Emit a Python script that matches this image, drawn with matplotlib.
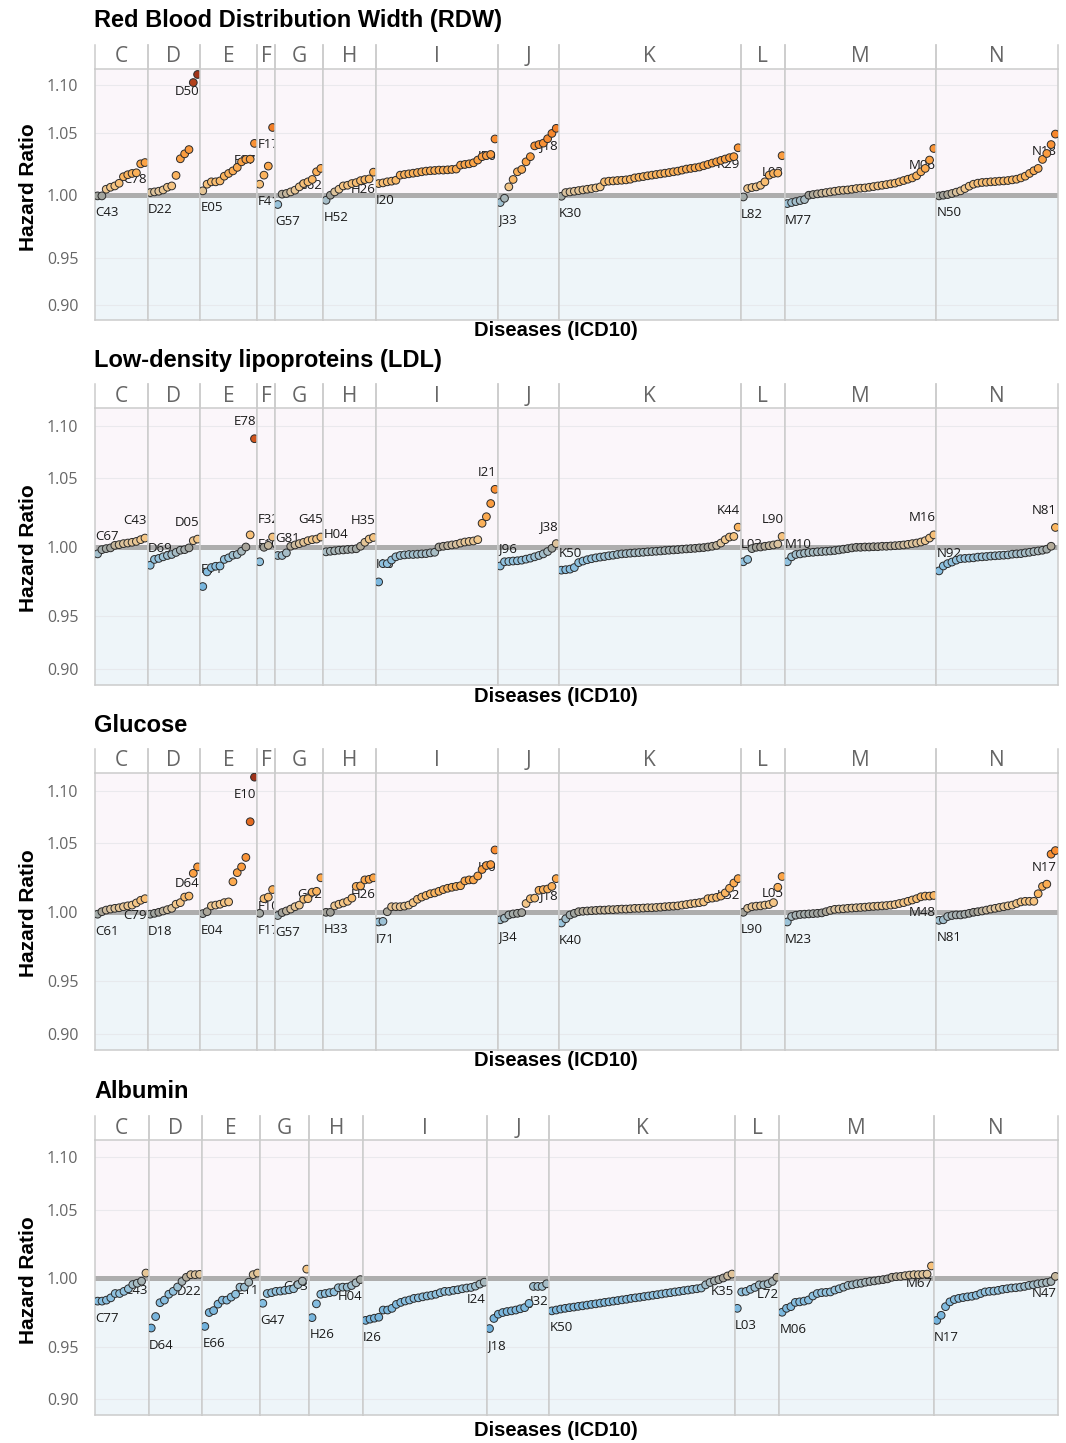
import numpy as np
import matplotlib.pyplot as plt
from matplotlib.colors import to_rgb

plt.rcParams['font.family'] = ['Open Sans', 'DejaVu Sans']

chapters = ['C', 'D', 'E', 'F', 'G', 'H', 'I', 'J', 'K', 'L', 'M', 'N']

# ---- Red Blood Distribution Width (RDW) ----
rdw_c = [0.9995, 0.9995, 1.0045, 1.006, 1.007, 1.009, 1.014, 1.0155, 1.0165, 1.017, 1.024, 1.025]
rdw_d = [1.002, 1.0025, 1.003, 1.004, 1.006, 1.007, 1.015, 1.028, 1.032, 1.0355, 1.103, 1.1135]
rdw_e = [1.0033, 1.0083, 1.0101, 1.0101, 1.0108, 1.0144, 1.0165, 1.0185, 1.0212, 1.0256, 1.0275, 1.0277, 1.0407]
rdw_f = [1.0083, 1.0152, 1.0222, 1.0548]
rdw_g = [0.993, 1.0008, 1.0013, 1.0025, 1.0038, 1.0063, 1.0088, 1.0101, 1.0119, 1.0178, 1.0204]
rdw_h = [0.9962, 1.0, 1.0025, 1.0045, 1.007, 1.0075, 1.0088, 1.0095, 1.011, 1.0118, 1.0123, 1.0175]
rdw_i = [1.0088, 1.0093, 1.0101, 1.0106, 1.0113, 1.0152, 1.0157, 1.0162, 1.0167, 1.0172,
         1.0178, 1.0183, 1.0186, 1.0188, 1.0191, 1.0191, 1.0193, 1.0196, 1.0199, 1.023,
         1.0235, 1.024, 1.0248, 1.027, 1.0297, 1.0305, 1.0315, 1.0445]
rdw_j = [0.9945, 0.9977, 1.0063, 1.0119, 1.0178, 1.0196, 1.0256, 1.0297, 1.0386, 1.0397, 1.0409, 1.0447, 1.0494, 1.054]
rdw_k = [0.9992, 1.002, 1.0025, 1.003, 1.0035, 1.004, 1.0045, 1.005, 1.0055, 1.0063,
         1.0101, 1.0106, 1.0108, 1.0111, 1.0113, 1.0116, 1.0121, 1.0131, 1.0136, 1.0141,
         1.0147, 1.0152, 1.0157, 1.0162, 1.0167, 1.0172, 1.0178, 1.0183, 1.0191, 1.0199,
         1.0204, 1.0209, 1.0215, 1.0225, 1.0235, 1.0246, 1.0256, 1.0267, 1.0278, 1.0289,
         1.0297, 1.037]
rdw_l = [0.9987, 1.005, 1.0058, 1.0063, 1.0075, 1.0101, 1.0152, 1.0165, 1.0168, 1.0305]
rdw_m = [0.9937, 0.9945, 0.9952, 0.996, 0.9967, 1.0, 1.0005, 1.001, 1.0015, 1.002,
         1.0025, 1.003, 1.0035, 1.0038, 1.004, 1.0045, 1.005, 1.0053, 1.0055, 1.006,
         1.0065, 1.007, 1.0075, 1.008, 1.0086, 1.0091, 1.0101, 1.0111, 1.0121, 1.0131,
         1.0147, 1.0178, 1.0204, 1.027, 1.0364]
rdw_n = [0.9995, 1.0, 1.0005, 1.0013, 1.0023, 1.0033, 1.005, 1.0068, 1.0083, 1.0091,
         1.0096, 1.0098, 1.0101, 1.0103, 1.0106, 1.0108, 1.0111, 1.0116, 1.0121, 1.0131,
         1.0144, 1.0165, 1.0186, 1.0204, 1.0275, 1.0323, 1.0397, 1.0488]
rdw_lo = ['C43', 'D22', 'E05', 'F41', 'G57', 'H52', 'I20', 'J33', 'K30', 'L82', 'M77', 'N50']
rdw_hi = ['C78', 'D50', 'E87', 'F17', 'G62', 'H26', 'I50', 'J18', 'K29', 'L03', 'M06', 'N18']

# ---- Low-density lipoproteins (LDL) ----
ldl_c = [0.9955, 0.9984, 0.9991, 0.9996, 1.0013, 1.0018, 1.0025, 1.0029, 1.0034, 1.004, 1.0052, 1.0063]
ldl_d = [0.9877, 0.9917, 0.9924, 0.9935, 0.9944, 0.9951, 0.9965, 0.998, 0.9984, 0.9996, 1.0045, 1.0056]
ldl_e = [0.9727, 0.9831, 0.9861, 0.987, 0.9872, 0.9917, 0.9928, 0.9946, 0.9951, 0.9973, 1.0002, 1.0085, 1.086]
ldl_f = [0.9901, 1.0, 1.0013, 1.007]
ldl_g = [0.9944, 0.9944, 0.9962, 1.0007, 1.0016, 1.0025, 1.0034, 1.0045, 1.0052, 1.0056, 1.007]
ldl_h = [0.9969, 0.9973, 0.9976, 0.998, 0.9982, 0.9985, 0.9987, 0.999, 1.0007, 1.0034, 1.0056, 1.0067]
ldl_i = [0.976, 0.9888, 0.9888, 0.9913, 0.9935, 0.9944, 0.9948, 0.9951, 0.9951, 0.9953,
         0.9955, 0.9957, 0.9962, 0.9966, 1.0002, 1.0007, 1.0011, 1.0016, 1.002, 1.0029,
         1.0036, 1.004, 1.0043, 1.0052, 1.0165, 1.0211, 1.0306, 1.0413]
ldl_j = [0.9872, 0.9901, 0.9903, 0.9906, 0.9908, 0.9912, 0.9919, 0.9926, 0.9935, 0.9944, 0.9955, 0.9971, 0.9993, 1.0025]
ldl_k = [0.9843, 0.9846, 0.985, 0.9861, 0.9895, 0.9906, 0.9915, 0.9922, 0.9928, 0.9933,
         0.9937, 0.9942, 0.9946, 0.9951, 0.9955, 0.9957, 0.996, 0.9962, 0.9964, 0.9966,
         0.9969, 0.9971, 0.9973, 0.9975, 0.9978, 0.998, 0.9982, 0.9984, 0.9987, 0.9989,
         0.9991, 0.9993, 0.9996, 0.9998, 1.0002, 1.0007, 1.0013, 1.0029, 1.0052, 1.007,
         1.0074, 1.0138]
ldl_l = [0.9901, 0.9917, 0.9991, 1.0, 1.0002, 1.0007, 1.0011, 1.0016, 1.0022, 1.0074]
ldl_m = [0.9901, 0.9935, 0.9951, 0.9955, 0.996, 0.9964, 0.9966, 0.9969, 0.9971, 0.9973,
         0.9975, 0.9978, 0.9982, 0.9987, 0.9991, 0.9996, 1.0, 1.0, 1.0002, 1.0002,
         1.0004, 1.0004, 1.0007, 1.0007, 1.0009, 1.0011, 1.0013, 1.0016, 1.002, 1.0025,
         1.0029, 1.0036, 1.0045, 1.0063, 1.0085]
ldl_n = [0.9838, 0.9872, 0.9888, 0.9899, 0.9912, 0.9922, 0.9924, 0.9926, 0.9928, 0.9933,
         0.9935, 0.9937, 0.994, 0.9942, 0.9944, 0.9946, 0.9948, 0.9953, 0.9955, 0.9957,
         0.9962, 0.9966, 0.9971, 0.9975, 0.998, 0.9987, 1.0007, 1.0136]
ldl_lo = ['C67', 'D69', 'E11', 'F10', 'G81', 'H04', 'I10', 'J96', 'K50', 'L03', 'M10', 'N92']
ldl_hi = ['C43', 'D05', 'E78', 'F32', 'G45', 'H35', 'I21', 'J38', 'K44', 'L90', 'M16', 'N81']

# ---- Glucose ----
glu_c = [0.9987, 1.0004, 1.0015, 1.0022, 1.0027, 1.0031, 1.0038, 1.0044, 1.0049, 1.0064, 1.0082, 1.0093]
glu_d = [0.9987, 0.9993, 1.0, 1.0009, 1.0018, 1.0027, 1.0055, 1.0066, 1.0104, 1.0111, 1.0271, 1.0318]
glu_e = [0.9991, 1.0004, 1.0044, 1.0049, 1.0055, 1.0066, 1.0071, 1.0211, 1.0276, 1.0318, 1.0389, 1.0686, 1.1158]
glu_f = [0.9993, 1.0093, 1.0104, 1.0156]
glu_g = [0.9978, 0.9998, 1.0009, 1.0022, 1.0038, 1.0049, 1.0089, 1.0093, 1.0138, 1.0144, 1.0239]
glu_h = [1.0, 1.0, 1.0044, 1.0055, 1.0064, 1.0075, 1.0097, 1.0178, 1.0182, 1.0224, 1.0228, 1.0239]
glu_i = [0.9934, 0.9938, 1.0004, 1.0038, 1.0038, 1.0038, 1.0042, 1.0049, 1.0066, 1.0089,
         1.0104, 1.0115, 1.0127, 1.0133, 1.0144, 1.0156, 1.0165, 1.0172, 1.0178, 1.0183,
         1.0217, 1.0224, 1.0224, 1.0252, 1.0299, 1.0328, 1.0335, 1.0447]
glu_j = [0.9949, 0.996, 0.9982, 0.9989, 0.9993, 0.9998, 1.006, 1.0093, 1.0097, 1.0151, 1.0156, 1.016, 1.0178, 1.0233]
glu_k = [0.9927, 0.9956, 0.9982, 0.9993, 1.0004, 1.0007, 1.0009, 1.0011, 1.0013, 1.0015,
         1.0015, 1.0018, 1.0018, 1.002, 1.0022, 1.0022, 1.0024, 1.0027, 1.0027, 1.0029,
         1.0031, 1.0031, 1.0033, 1.0035, 1.0038, 1.004, 1.0042, 1.0044, 1.0049, 1.0053,
         1.0058, 1.0062, 1.0066, 1.0071, 1.0093, 1.0097, 1.0102, 1.0111, 1.0133, 1.0165,
         1.0202, 1.0233]
glu_l = [1.0, 1.0027, 1.0038, 1.0042, 1.0044, 1.0049, 1.0053, 1.0066, 1.0172, 1.0248]
glu_m = [0.9934, 0.9971, 0.998, 0.9985, 0.9987, 0.9989, 0.9991, 0.9993, 0.9996, 1.0004,
         1.0013, 1.002, 1.0022, 1.0024, 1.0027, 1.0029, 1.0031, 1.0033, 1.0035, 1.0038,
         1.004, 1.0042, 1.0044, 1.0046, 1.0049, 1.0053, 1.006, 1.0066, 1.0075, 1.0084,
         1.0093, 1.0106, 1.0111, 1.0111, 1.0115]
glu_n = [0.9945, 0.9949, 0.9971, 0.9978, 0.9982, 0.9982, 0.9987, 0.9993, 1.0, 1.0004,
         1.0009, 1.0015, 1.0022, 1.0027, 1.0033, 1.0038, 1.0044, 1.0049, 1.006, 1.0071,
         1.0075, 1.0075, 1.0075, 1.0127, 1.0178, 1.0194, 1.0414, 1.0442]
glu_lo = ['C61', 'D18', 'E04', 'F17', 'G57', 'H33', 'I71', 'J34', 'K40', 'L90', 'M23', 'N81']
glu_hi = ['C79', 'D64', 'E10', 'F10', 'G62', 'H26', 'I10', 'J18', 'K52', 'L05', 'M48', 'N17']

# ---- Albumin (no F chapter) ----
alb_c = [0.9842, 0.9842, 0.9849, 0.9865, 0.9895, 0.9895, 0.991, 0.9928, 0.9957, 0.9966, 0.998, 1.0036]
alb_d = [0.9647, 0.9732, 0.9831, 0.9849, 0.989, 0.991, 0.994, 0.9978, 1.0007, 1.0025, 1.0025, 1.0027]
alb_e = [0.9659, 0.9761, 0.9775, 0.9821, 0.9849, 0.9849, 0.987, 0.989, 0.9939, 0.9939, 0.9973, 1.0025, 1.0036]
alb_f = []
alb_g = [0.9827, 0.9895, 0.9901, 0.991, 0.9912, 0.9917, 0.9921, 0.9928, 0.9957, 0.998, 1.0063]
alb_h = [0.9724, 0.9823, 0.989, 0.9895, 0.9901, 0.9906, 0.9935, 0.9939, 0.9939, 0.995, 0.9969, 0.9991]
alb_i = [0.9704, 0.9713, 0.972, 0.9727, 0.9779, 0.9779, 0.9791, 0.9819, 0.9833, 0.9843,
         0.985, 0.9861, 0.9865, 0.9872, 0.9878, 0.9883, 0.989, 0.9901, 0.991, 0.991,
         0.9917, 0.9921, 0.9928, 0.9933, 0.9937, 0.9946, 0.996, 0.9973]
alb_j = [0.9643, 0.9718, 0.9749, 0.9761, 0.9768, 0.9773, 0.9779, 0.9788, 0.9796, 0.9826, 0.9944, 0.9944, 0.9944, 0.9962]
alb_k = [0.9773, 0.9779, 0.9786, 0.9791, 0.9796, 0.98, 0.9805, 0.9809, 0.9814, 0.9819,
         0.9823, 0.9828, 0.9833, 0.9837, 0.9842, 0.9846, 0.9851, 0.9855, 0.9861, 0.9865,
         0.9869, 0.9874, 0.9878, 0.9883, 0.9887, 0.9892, 0.9897, 0.9901, 0.9906, 0.991,
         0.9915, 0.9919, 0.9924, 0.9928, 0.9933, 0.9955, 0.9971, 0.9982, 0.9991, 1.0002,
         1.0016, 1.0029]
alb_l = [0.9791, 0.9906, 0.991, 0.9924, 0.9937, 0.9955, 0.9955, 0.9962, 0.9978, 1.0007]
alb_m = [0.9763, 0.9791, 0.9803, 0.9833, 0.9837, 0.9842, 0.985, 0.9878, 0.9895, 0.9901,
         0.9903, 0.9906, 0.9919, 0.9928, 0.9939, 0.9951, 0.9955, 0.9962, 0.9966, 0.9973,
         0.9978, 0.9982, 0.9987, 0.9991, 0.9996, 1.0007, 1.0011, 1.0013, 1.0018, 1.0022,
         1.0025, 1.0025, 1.0027, 1.0029, 1.0085]
alb_n = [0.9704, 0.9741, 0.9803, 0.9837, 0.9853, 0.9861, 0.9867, 0.9872, 0.9876, 0.9883,
         0.9895, 0.9906, 0.991, 0.9912, 0.9917, 0.9924, 0.9928, 0.9933, 0.9935, 0.9939,
         0.9944, 0.9951, 0.9955, 0.9962, 0.9966, 0.9971, 0.9978, 1.0013]
alb_lo = ['C77', 'D64', 'E66', '', 'G47', 'H26', 'I26', 'J18', 'K50', 'L03', 'M06', 'N17']
alb_hi = ['C43', 'D22', 'E11', '', 'G93', 'H04', 'I24', 'J32', 'K35', 'L72', 'M67', 'N47']

rdw = [rdw_c, rdw_d, rdw_e, rdw_f, rdw_g, rdw_h, rdw_i, rdw_j, rdw_k, rdw_l, rdw_m, rdw_n]
ldl = [ldl_c, ldl_d, ldl_e, ldl_f, ldl_g, ldl_h, ldl_i, ldl_j, ldl_k, ldl_l, ldl_m, ldl_n]
glu = [glu_c, glu_d, glu_e, glu_f, glu_g, glu_h, glu_i, glu_j, glu_k, glu_l, glu_m, glu_n]
alb = [alb_c, alb_d, alb_e, alb_f, alb_g, alb_h, alb_i, alb_j, alb_k, alb_l, alb_m, alb_n]

yticks = [0.90, 0.95, 1.00, 1.05, 1.10]
YLIM = (0.881, 1.121)

# axis squeezes values away from 1 (asinh-like)
S = 0.077
def fwd(y):
    return np.arcsinh((np.asarray(y) - 1.0) / S)
def inv(t):
    return 1.0 + S * np.sinh(np.asarray(t))

# fill colour as a function of the hazard ratio
stops = [0.960, 0.982, 0.992, 0.997, 1.000, 1.002, 1.005, 1.012, 1.025, 1.050, 1.080, 1.115]
stop_cols = ['#68abd9', '#82bce0', '#95c4df', '#a9bcc2', '#a09f97', '#d9c29e',
             '#f3c98f', '#fbb864', '#fca446', '#f7862b', '#d95b1d', '#9e321a']
stop_rgb = np.array([to_rgb(c) for c in stop_cols])
def hr_colour(v):
    v = np.asarray(v)
    return np.column_stack([np.interp(v, stops, stop_rgb[:, k]) for k in range(3)])

W, H = 1066, 1443
LEFT, RIGHT = 95, 1058
fig = plt.figure(figsize=(W / 100, H / 100), dpi=100)

panels = [
    dict(title='Red Blood Distribution Width (RDW)', series=rdw, lo=rdw_lo, hi=rdw_hi,
         top=69, bottom=320, title_y=20, xlab_y=331, ylab_y=187, side=-1),
    dict(title='Low-density lipoproteins (LDL)', series=ldl, lo=ldl_lo, hi=ldl_hi,
         top=408, bottom=685, title_y=361, xlab_y=696, ylab_y=548, side=1),
    dict(title='Glucose', series=glu, lo=glu_lo, hi=glu_hi,
         top=773, bottom=1050, title_y=726, xlab_y=1061, ylab_y=913, side=-1),
    dict(title='Albumin', series=alb, lo=alb_lo, hi=alb_hi,
         top=1140, bottom=1415, title_y=1092, xlab_y=1430, ylab_y=1280, side=-1),
]

border = '#cccccc'
for p in panels:
    present = [(ch, v, lo, hi) for ch, v, lo, hi in zip(chapters, p['series'], p['lo'], p['hi']) if len(v)]
    units = sum(len(v) + 0.2 for _, v, _, _ in present)
    u = (RIGHT - LEFT) / units
    x0 = LEFT
    ph = p['bottom'] - p['top']
    for i, (ch, vals, lo, hi) in enumerate(present):
        n = len(vals)
        w = (n + 0.2) * u
        ax = fig.add_axes([x0 / W, 1 - p['bottom'] / H, w / W, ph / H])
        ax.set_yscale('function', functions=(fwd, inv))
        ax.set_xlim(0.4, n + 0.6)
        ax.set_ylim(*YLIM)
        ax.axhspan(1.0, YLIM[1], color='#fbf6fa', lw=0, zorder=0)
        ax.axhspan(YLIM[0], 1.0, color='#eef5f9', lw=0, zorder=0)
        for t in yticks:
            if t != 1.0:
                ax.axhline(t, color='#e6e6ea', lw=0.8, alpha=0.8, zorder=0.5)
        ax.axhline(1.0, color='#adadad', lw=3.6, zorder=1)

        xs = np.arange(1, n + 1)
        ax.scatter(xs, vals, s=31, c=hr_colour(vals), edgecolors='#2b2b2b',
                   linewidths=0.7, zorder=3)

        dy = 12.3 * p['side']
        if n < 6:
            marks = [(0.4, vals[0], lo, 'left', 0.3), (0.4, vals[-1], hi, 'left', 0.3)]
        else:
            marks = [(1, vals[0], lo, 'left', -1.8), (n, vals[-1], hi, 'right', 1.2)]
        for mx, my, txt, ha, dx in marks:
            ax.annotate(txt, (mx, my), xytext=(dx, dy), textcoords='offset points',
                        ha=ha, va='center', fontsize=9.5, color='#1a1a1a',
                        annotation_clip=False, clip_on=True, zorder=2.5)

        ax.set_xticks([])
        ax.set_yticks(yticks)
        if i == 0:
            ax.set_yticklabels(['%.2f' % t for t in yticks])
            ax.tick_params(axis='y', length=0, pad=12, labelsize=11.5, labelcolor='#666666')
        else:
            ax.tick_params(axis='y', length=0, labelleft=False)
        for s in ax.spines.values():
            s.set_color(border)
            s.set_linewidth(1.1)

        sax = fig.add_axes([x0 / W, 1 - p['top'] / H, w / W, 24 / H])
        sax.patch.set_alpha(0)
        sax.set_xticks([])
        sax.set_yticks([])
        sax.spines['top'].set_visible(False)
        sax.spines['bottom'].set_visible(False)
        for side in ('left', 'right'):
            sax.spines[side].set_color(border)
            sax.spines[side].set_linewidth(1.1)
        sax.text(0.5, 0.5, ch, ha='center', va='center', fontsize=15, color='#666666',
                 transform=sax.transAxes)
        x0 += w

    fig.text(94 / W, 1 - p['title_y'] / H, p['title'], fontsize=17, fontweight='bold',
             family='Liberation Sans', ha='left', va='center')
    fig.text(556 / W, 1 - p['xlab_y'] / H, 'Diseases (ICD10)', fontsize=14.5,
             fontweight='bold', family='Liberation Sans', ha='center', va='center')
    fig.text(28 / W, 1 - p['ylab_y'] / H, 'Hazard Ratio', fontsize=15, fontweight='bold',
             family='Liberation Sans', rotation=90, ha='center', va='center')

fig.savefig('out.png', dpi=100)
